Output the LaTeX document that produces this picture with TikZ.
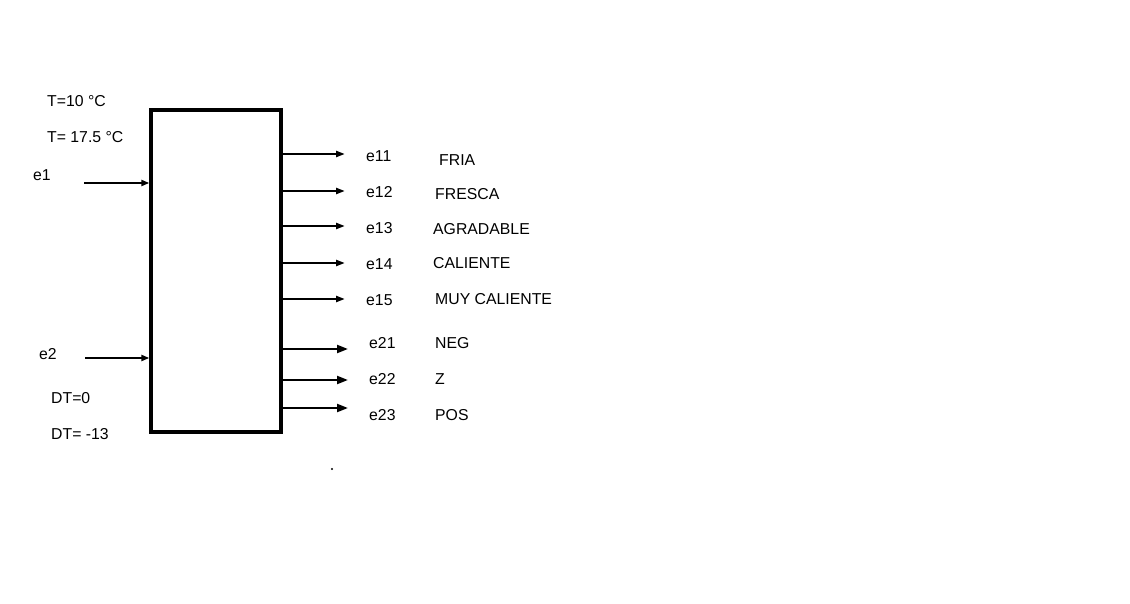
\documentclass[tikz,border=0pt]{standalone}
\usepackage{fontspec}
\setmainfont{Liberation Sans}
\usetikzlibrary{arrows.meta,positioning}

\begin{document}
\begin{tikzpicture}[x=1pt,y=-1pt,
  lbl/.style={anchor=west,inner sep=0pt,font=\fontsize{15.8}{18}\selectfont},
  inarr/.style={-{Triangle[length=8pt,width=6pt]},line width=2.2pt},
  outarr/.style={-{Triangle[length=9pt,width=6pt]},line width=2.2pt},
  outarrb/.style={-{Triangle[length=11pt,width=8pt]},line width=2.2pt}]
\useasboundingbox[fill=white] (0,0) rectangle (1130,604);
% block
\node[draw,line width=3.3pt,minimum width=130pt,minimum height=322pt,inner sep=0pt] (blk) at (216,271) {};
% inputs
\node[lbl] (t1) at (47,101) {T=10 °C};
\node[lbl] (t2) at (47,137) {T= 17.5 °C};
\node[lbl] (e1) at (33,175) {e1};
\node[lbl] (e2) at (39,354) {e2};
\node[lbl] (dt1) at (51,398) {DT=0};
\node[lbl] (dt2) at (51,434) {DT= -13};
\coordinate (i1) at (84,183);
\coordinate (i2) at (85,358);
\draw[inarr] (i1) -- (blk.west |- i1);
\draw[inarr] (i2) -- (blk.west |- i2);
% outputs of e1
\foreach \n/\y/\ly/\lx/\sy/\t in {11/154/156/439/160/FRIA,12/191/192/435/194/FRESCA,13/226/228/433/229/AGRADABLE,14/263/264/433/263/CALIENTE,15/299/300/435/299/MUY CALIENTE}{
  \coordinate (o\n) at (345,\y);
  \draw[outarr] (blk.east |- o\n) -- (o\n);
  \node[lbl] (e\n) at (366,\ly) {e\n};
  \node[lbl] (s\n) at (\lx,\sy) {\t};
}
% outputs of e2
\foreach \n/\y/\ly/\t in {21/349/343/NEG,22/380/379/Z,23/408/415/POS}{
  \coordinate (o\n) at (348,\y);
  \draw[outarrb] (blk.east |- o\n) -- (o\n);
  \node[lbl] (e\n) at (369,\ly) {e\n};
  \node[lbl] (s\n) at (435,\ly) {\t};
}
\fill (332,469) circle (1.2pt);
\end{tikzpicture}
\end{document}
